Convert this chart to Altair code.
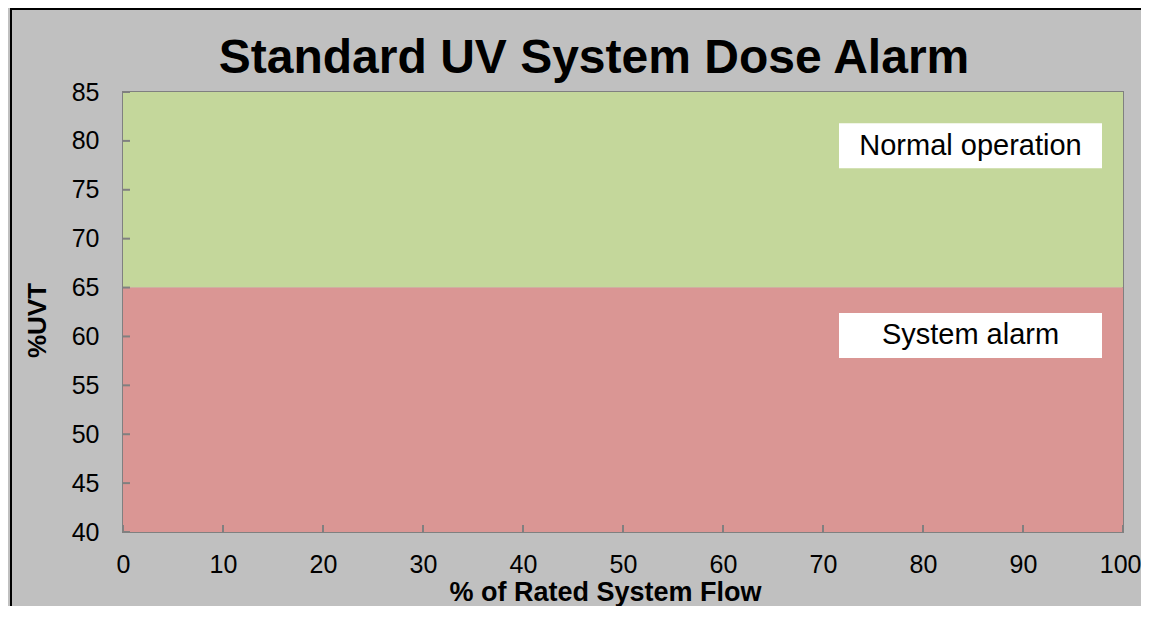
import altair as alt
import pandas as pd

FONT = "Liberation Sans"

# Data
band_names = ["Normal operation zone", "System alarm zone"]
band_low = [65, 40]
band_high = [85, 65]
band_colors = ["#C4D79B", "#DA9694"]
flow_start = [0, 0]
flow_end = [100, 100]

x_ticks = [0, 10, 20, 30, 40, 50, 60, 70, 80, 90, 100]
y_ticks = [40, 45, 50, 55, 60, 65, 70, 75, 80, 85]

ann_text = ["Normal operation", "System alarm"]
ann_x0 = [71.6, 71.6]
ann_x1 = [97.9, 97.9]
ann_y0 = [77.2, 57.8]
ann_y1 = [81.8, 62.4]

chart_title = "Standard UV System Dose Alarm"

bands = pd.DataFrame({"zone": band_names, "lo": band_low, "hi": band_high,
                      "x0": flow_start, "x1": flow_end})
ann = pd.DataFrame({"label": ann_text, "x0": ann_x0, "x1": ann_x1,
                    "y0": ann_y0, "y1": ann_y1})
ann["xm"] = (ann["x0"] + ann["x1"]) / 2
ann["ym"] = (ann["y0"] + ann["y1"]) / 2

TICK_X = 0.7      # 7 px in x data units
TICK_Y = 0.716    # 7 px in y data units
yt = pd.DataFrame({"v": y_ticks, "a": 0.0, "b": TICK_X})
xt = pd.DataFrame({"v": x_ticks, "a": 40.0, "b": 40.0 + TICK_Y})

xscale = alt.Scale(domain=[0, 100], nice=False, zero=False)
yscale = alt.Scale(domain=[40, 85], nice=False, zero=False)

last_x = x_ticks[-1]
xaxis = alt.Axis(values=x_ticks, title="% of Rated System Flow", grid=False, domain=False,
                 ticks=False, tickSize=0, labelFontSize=25, labelPadding=20,
                 labelAlign={"condition": {"test": f"datum.value == {last_x}", "value": "right"},
                             "value": "center"},
                 labelOffset={"condition": {"test": f"datum.value == {last_x}", "value": 18},
                              "value": 0},
                 labelColor="black", labelFont=FONT, labelFlush=False, labelOverlap=False,
                 titleFont=FONT, titleFontSize=27, titleFontWeight="bold", titleColor="black",
                 titleX=482, titleY=68, titleBaseline="alphabetic", titleAlign="center")
yaxis = alt.Axis(values=y_ticks, title="%UVT", grid=False, domain=False,
                 ticks=False, tickSize=0, labelFontSize=25, labelPadding=24,
                 labelColor="black", labelFont=FONT, labelFlush=False, labelOverlap=False,
                 titleFont=FONT, titleFontSize=26, titleFontWeight="bold", titleColor="black",
                 titleX=-86, titleY=228, titleAngle=270, titleBaseline="middle",
                 titleAlign="center")


def X(f):
    return alt.X(f, type="quantitative", scale=xscale, axis=xaxis)


def Y(f):
    return alt.Y(f, type="quantitative", scale=yscale, axis=yaxis)


band_layer = alt.Chart(bands).mark_rect().encode(
    x=X("x0"), x2="x1", y=Y("lo"), y2="hi",
    color=alt.Color("zone:N", scale=alt.Scale(domain=band_names, range=band_colors), legend=None),
)

ytick_layer = alt.Chart(yt).mark_rule(color="#808080", strokeWidth=2).encode(
    x=X("a"), x2="b", y=Y("v"))
xtick_layer = alt.Chart(xt).mark_rule(color="#808080", strokeWidth=2).encode(
    x=X("v"), y=Y("a"), y2="b")

box_layer = alt.Chart(ann).mark_rect(color="white").encode(
    x=X("x0"), x2="x1", y=Y("y0"), y2="y1")
text_layer = alt.Chart(ann).mark_text(font=FONT, fontSize=29, color="black",
                                      baseline="middle", align="center").encode(
    x=X("xm"), y=Y("ym"), text="label:N")

single = alt.Data(values=[{"t": chart_title}])
title_layer = alt.Chart(single).mark_text(
    font=FONT, fontSize=48, fontWeight="bold", color="black",
    align="center", baseline="alphabetic").encode(
    x=alt.value(471), y=alt.value(-19), text="t:N")
left_border = alt.Chart(single).mark_rule(color="black", strokeWidth=2).encode(
    x=alt.value(-112), y=alt.value(-84), y2=alt.value(520))
top_border = alt.Chart(single).mark_rule(color="black", strokeWidth=2).encode(
    y=alt.value(-83), x=alt.value(-113), x2=alt.value(1030))

chart = alt.layer(
    band_layer, ytick_layer, xtick_layer, box_layer, text_layer,
    title_layer, left_border, top_border
).properties(
    width=1000, height=440,
    padding={"left": 115, "top": 84, "right": 18, "bottom": 74},
    autosize=alt.AutoSizeParams(type="none"),
    background="#C0C0C0",
).configure_view(stroke="#808080", strokeWidth=2)

chart.save("out.html", embed_options={"renderer": "svg", "actions": False})
